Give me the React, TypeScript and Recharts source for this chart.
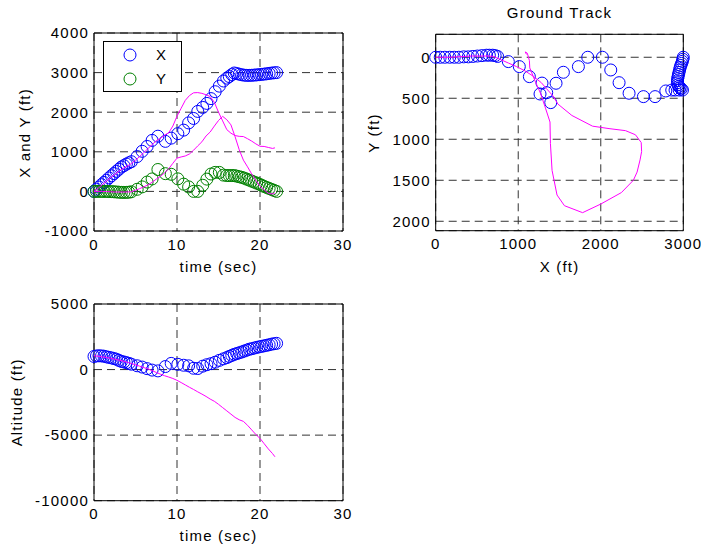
import React from 'react';
import {
  ScatterChart,
  Scatter,
  XAxis,
  YAxis,
  CartesianGrid,
  ReferenceArea,
  Legend,
} from 'recharts';

// --- Measured samples (radar) ---
const measTime = [
  0, 0.3, 0.6, 0.9, 1.2, 1.5, 1.8, 2.1, 2.4, 2.7, 3.0, 3.3, 3.6, 3.9, 4.2, 4.5,
  5.2, 5.8, 6.4, 7.0, 7.7, 8.6, 9.3, 10.1, 10.8, 11.4, 12.0, 12.5, 13.1, 13.6, 14.1, 14.6, 15.1, 15.6, 16.0,
  16.3, 16.6, 16.9, 17.2, 17.5, 17.8, 18.1, 18.4, 18.7, 19.0, 19.3, 19.6, 19.9, 20.2, 20.5, 20.8, 21.1, 21.4,
  21.7, 22.0,
];
const measX = [
  0, 55, 110, 170, 225, 280, 340, 395, 450, 505, 560, 615, 650, 690, 720, 750,
  880, 1013, 1135, 1288, 1394, 1264, 1345, 1458, 1547, 1729, 1842, 2020, 2121, 2222, 2343, 2517, 2658, 2788, 2860,
  2900, 2950, 2990, 2975, 2960, 2945, 2935, 2930, 2930, 2932, 2937, 2942, 2948, 2955, 2962, 2970, 2980, 2988,
  2995, 3000,
];
const measY = [
  0, 0, 0, 0, 0, 0, -5, -5, -10, -15, -20, -25, -25, -25, -20, -10,
  53, 114, 236, 315, 553, 448, 432, 317, 183, 114, 0, 0, 155, 310, 439, 480, 480, 411, 400,
  400, 400, 400, 385, 370, 355, 335, 310, 285, 260, 235, 210, 185, 155, 125, 100, 75, 50, 25, 0,
];
const measAlt = [
  1000, 1040, 1050, 1040, 1020, 970, 930, 890, 840, 790, 700, 620, 580, 530, 470, 410,
  290, 190, 70, -40, -100, 230, 470, 400, 330, 285, 100, 80, 260, 370, 450, 560, 700, 820, 910,
  1000, 1080, 1160, 1220, 1280, 1340, 1410, 1480, 1550, 1590, 1640, 1690, 1730, 1770, 1810, 1850, 1890, 1940,
  1970, 2000,
];

// --- True trajectory ---
const truthTime = [
  0, 0.5, 1, 1.5, 2, 2.5, 3, 3.5, 4, 4.5, 5, 5.5, 6, 6.5, 7, 7.5, 8, 8.5, 9, 9.5, 10, 10.5, 11, 11.5, 12, 12.5,
  13, 13.5, 14, 14.5, 15, 15.5, 16, 16.5, 17, 17.5, 18, 18.5, 19, 19.5, 20, 20.5, 21, 21.5, 21.8,
];
const truthX = [
  0, 80, 170, 260, 350, 430, 510, 580, 640, 700, 790, 880, 980, 1080, 1180, 1280, 1340, 1420, 1480, 1650, 1900,
  2100, 2300, 2420, 2490, 2495, 2476, 2440, 2395, 2250, 2000, 1780, 1560, 1470, 1410, 1390, 1385, 1330, 1270,
  1200, 1140, 1135, 1110, 1085, 1100,
];
const truthY = [
  0, 0, 0, -5, -10, -15, -15, -15, -15, -10, 30, 70, 114, 165, 230, 310, 380, 470, 570, 710, 840, 870, 895, 945,
  1040, 1150, 1252, 1400, 1500, 1650, 1790, 1895, 1810, 1680, 1380, 1050, 790, 620, 440, 280, 130, 40, -50, -65,
  -35,
];
const truthAlt = [
  1050, 1020, 970, 920, 860, 790, 720, 650, 560, 460, 360, 260, 150, 50, -80, -220, -350, -470, -570, -680, -820,
  -990, -1170, -1350, -1520, -1700, -1870, -2050, -2250, -2420, -2650, -2900, -3150, -3400, -3650, -3830, -3950,
  -4250, -4600, -4950, -5250, -5650, -6050, -6400, -6650,
];

const timeTicks = [0, 10, 20, 30];
const xyTicks = [-1000, 0, 1000, 2000, 3000, 4000];
const groundXTicks = [0, 1000, 2000, 3000];
const groundYTicks = [0, 500, 1000, 1500, 2000];
const altTicks = [-10000, -5000, 0, 5000];

const pts = (xs: number[], ys: number[]) => xs.map((x, i) => ({ x, y: ys[i] }));

const BLUE = '#0000ff';
const GREEN = '#008000';
const MAGENTA = '#ff00ff';

const ring = (color: string) => (props: any) =>
  <circle cx={props.cx} cy={props.cy} r={6} fill="none" stroke={color} strokeWidth={1} />;
const noMarker = () => <g />;

const title = (text: string, x: number, y: number, angle = 0) => ({
  content: () => (
    <text
      x={x}
      y={y}
      textAnchor="middle"
      fill="#000"
      transform={angle ? `rotate(${angle} ${x} ${y})` : undefined}
    >
      {text}
    </text>
  ),
});

const renderLegend = (props: any) => {
  const items = (props.payload || []).filter((p: any) => p.type !== 'none');
  return (
    <svg width={79} height={51}>
      <rect x={0.5} y={0.5} width={78} height={50} fill="#fff" stroke="#000" />
      {items.map((p: any, i: number) => (
        <g key={p.value}>
          <circle cx={27} cy={14 + i * 24} r={6} fill="none" stroke={p.color} />
          <text x={53} y={19 + i * 24} fill="#000">{p.value}</text>
        </g>
      ))}
    </svg>
  );
};

const tick = { fill: '#000' };
const grid = <CartesianGrid strokeDasharray="8 5" stroke="#333" />;

export default function App() {
  return (
    <div
      style={{
        position: 'absolute',
        left: 0,
        top: 0,
        width: 701,
        height: 548,
        background: '#fff',
        fontFamily: "'Liberation Sans', Arial, sans-serif",
        fontSize: 15,
        letterSpacing: '1.2px',
      }}
    >
      {/* X and Y vs time */}
      <div style={{ position: 'absolute', left: 0, top: 0 }}>
        <ScatterChart width={360} height={280} margin={{ top: 33, right: 17, bottom: 9, left: 34 }}>
          {grid}
          <XAxis
            type="number"
            dataKey="x"
            domain={[0, 30]}
            ticks={timeTicks}
            interval={0}
            height={40}
            tickSize={0}
            tickMargin={8}
            axisLine={false}
            tick={tick}
            label={title('time (sec)', 218.5, 272)}
          />
          <YAxis
            type="number"
            dataKey="y"
            domain={[-1000, 4000]}
            ticks={xyTicks}
            interval={0}
            width={60}
            tickSize={0}
            tickMargin={5}
            axisLine={false}
            tick={tick}
            label={title('X and Y (ft)', 30, 133, -90)}
          />
          <Scatter name="X" data={pts(measTime, measX)} fill={BLUE} shape={ring(BLUE)} isAnimationActive={false} />
          <Scatter name="Y" data={pts(measTime, measY)} fill={GREEN} shape={ring(GREEN)} isAnimationActive={false} />
          <Scatter
            name="true X"
            data={pts(truthTime, truthX)}
            line={{ stroke: MAGENTA, strokeWidth: 1 }}
            shape={noMarker}
            legendType="none"
            isAnimationActive={false}
          />
          <Scatter
            name="true Y"
            data={pts(truthTime, truthY)}
            line={{ stroke: MAGENTA, strokeWidth: 1 }}
            shape={noMarker}
            legendType="none"
            isAnimationActive={false}
          />
          <ReferenceArea x1={0} x2={30} y1={-1000} y2={4000} fill="none" stroke="#000" strokeWidth={1} />
          <Legend
            layout="vertical"
            align="center"
            verticalAlign="middle"
            content={renderLegend}
            wrapperStyle={{ left: 103, top: 41, width: 79, height: 51 }}
          />
        </ScatterChart>
      </div>

      {/* Ground track */}
      <div style={{ position: 'absolute', left: 360, top: 0 }}>
        <ScatterChart width={341} height={280} margin={{ top: 34.3, right: 17.7, bottom: 9.3, left: 15.7 }}>
          {grid}
          <XAxis
            type="number"
            dataKey="x"
            domain={[0, 3000]}
            ticks={groundXTicks}
            interval={0}
            height={40}
            tickSize={0}
            tickMargin={8}
            axisLine={false}
            tick={tick}
            label={title('X (ft)', 199.5, 272)}
          />
          <YAxis
            type="number"
            dataKey="y"
            domain={[-280, 2115]}
            reversed
            ticks={groundYTicks}
            interval={0}
            width={60}
            tickSize={0}
            tickMargin={5}
            axisLine={false}
            tick={tick}
            label={title('Y (ft)', 19, 133, -90)}
          />
          <Scatter name="track" data={pts(measX, measY)} shape={ring(BLUE)} isAnimationActive={false} />
          <Scatter
            name="true track"
            data={pts(truthX, truthY)}
            line={{ stroke: MAGENTA, strokeWidth: 1 }}
            shape={noMarker}
            isAnimationActive={false}
          />
          <ReferenceArea
            x1={0}
            x2={3000}
            y1={-280}
            y2={2115}
            fill="none"
            stroke="#000"
            strokeWidth={1}
            label={title('Ground Track', 199.5, 18)}
          />
        </ScatterChart>
      </div>

      {/* Altitude vs time */}
      <div style={{ position: 'absolute', left: 0, top: 280 }}>
        <ScatterChart width={360} height={268} margin={{ top: 24, right: 17, bottom: 7.3, left: 24 }}>
          {grid}
          <XAxis
            type="number"
            dataKey="x"
            domain={[0, 30]}
            ticks={timeTicks}
            interval={0}
            height={40}
            tickSize={0}
            tickMargin={8}
            axisLine={false}
            tick={tick}
            label={title('time (sec)', 218.5, 260.5)}
          />
          <YAxis
            type="number"
            dataKey="y"
            domain={[-10000, 5000]}
            ticks={altTicks}
            interval={0}
            width={70}
            tickSize={0}
            tickMargin={5}
            axisLine={false}
            tick={tick}
            label={title('Altitude (ft)', 22, 122.3, -90)}
          />
          <Scatter name="Altitude" data={pts(measTime, measAlt)} shape={ring(BLUE)} isAnimationActive={false} />
          <Scatter
            name="true Altitude"
            data={pts(truthTime, truthAlt)}
            line={{ stroke: MAGENTA, strokeWidth: 1 }}
            shape={noMarker}
            isAnimationActive={false}
          />
          <ReferenceArea x1={0} x2={30} y1={-10000} y2={5000} fill="none" stroke="#000" strokeWidth={1} />
        </ScatterChart>
      </div>
    </div>
  );
}
